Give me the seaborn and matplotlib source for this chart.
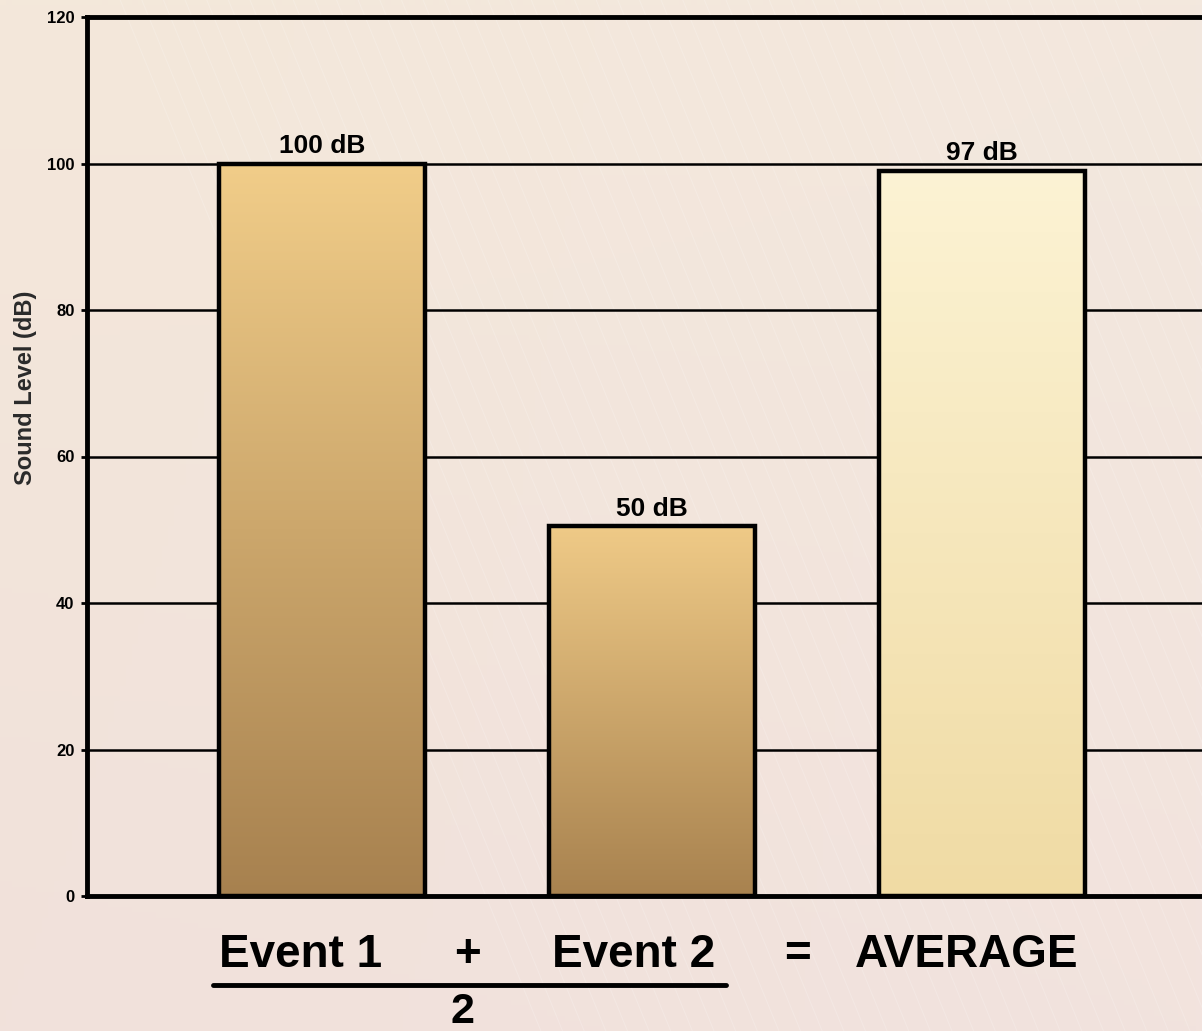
import numpy as np
import pandas as pd
import matplotlib
matplotlib.use("Agg")
import matplotlib.pyplot as plt
import seaborn as sns
from matplotlib.lines import Line2D
from matplotlib.colors import to_rgb

# ---- data ----
categories = ["Event 1", "Event 2", "AVERAGE"]
levels = [100, 50.5, 99]
bar_labels = ["100 dB", "50 dB", "97 dB"]
y_ticks = [0, 20, 40, 60, 80, 100, 120]
top_colors = ["#F1CD89", "#EFCA87", "#FCF3D4"]
bottom_colors = ["#A7814F", "#A8824F", "#F0DBA4"]

sns.set_theme(style="white")
plt.rcParams["font.family"] = ["Liberation Sans", "DejaVu Sans"]
plt.rcParams["text.color"] = "black"

W, H = 1202, 1031
fig = plt.figure(figsize=(W / 100, H / 100), dpi=100)

# background gradient with faint diagonal streaks
bg = fig.add_axes([0, 0, 1, 1], zorder=-10)
tl, tr = np.array(to_rgb("#F4E8DA")), np.array(to_rgb("#F3E8DE"))
bl, br = np.array(to_rgb("#F1E1DB")), np.array(to_rgb("#F2E3DE"))
n = 200
u = np.linspace(0, 1, n)[None, :, None]
v = np.linspace(0, 1, n)[:, None, None]
img = (1 - v) * ((1 - u) * tl + u * tr) + v * ((1 - u) * bl + u * br)
bg.imshow(img, extent=[0, 1, 0, 1], aspect="auto", origin="upper")
for x0 in np.arange(0.45, 1.3, 0.018):
    bg.plot([x0 - 0.35, x0], [1.0, 0.0], color="white", lw=0.8, alpha=0.18)
bg.set_xlim(0, 1)
bg.set_ylim(0, 1)
bg.axis("off")

# main axes
ax = fig.add_axes([87 / W, 135 / H, 1126 / W, 879 / H])
ax.patch.set_alpha(0)

df = pd.DataFrame({"category": categories, "level": levels})
sns.barplot(data=df, x="category", y="level", ax=ax, width=0.627,
            color="white", edgecolor="black", linewidth=3.2, zorder=3)

for patch, ctop, cbot in zip(ax.patches, top_colors, bottom_colors):
    x0, w, h = patch.get_x(), patch.get_width(), patch.get_height()
    t = np.linspace(0, 1, 256)[:, None, None]
    grad = (1 - t) * np.array(to_rgb(ctop)) + t * np.array(to_rgb(cbot))
    im = ax.imshow(grad, extent=[x0, x0 + w, 0, h], aspect="auto",
                   origin="upper", zorder=2.5)
    im.set_clip_path(patch)
    patch.set_facecolor("none")

ax.bar_label(ax.containers[0], labels=bar_labels, padding=4,
             fontsize=19, fontweight="bold", color="black")

ax.set_xlim(-0.712, 2.70)
ax.set_ylim(0, 120)
ax.set_yticks(y_ticks)
ax.set_yticklabels([str(t) for t in y_ticks], fontsize=12, fontweight="bold",
                   color="black")
ax.tick_params(axis="y", length=4, width=2, color="black", pad=5, left=True)
ax.tick_params(axis="x", length=0, labelbottom=False)
ax.set_xlabel("")
ax.set_ylabel("Sound Level (dB)", fontsize=17, fontweight="bold", color="#2a2a2a")
ax.yaxis.set_label_coords((37 - 87) / 1126, (896 - 388) / 879)

ax.yaxis.grid(True, color="black", lw=1.8)
ax.set_axisbelow(True)
for side in ["left", "top", "bottom"]:
    ax.spines[side].set_visible(True)
    ax.spines[side].set_linewidth(3.5)
    ax.spines[side].set_color("black")
ax.spines["right"].set_visible(False)

# formula text below
fs = 33
kw = dict(ha="center", va="center", fontsize=fs, fontweight="bold", color="black")
fig.text(301 / W, 1 - 955 / H, "Event 1", **kw)
fig.text(468 / W, 1 - 955 / H, "+", **kw)
fig.text(634 / W, 1 - 955 / H, "Event 2", **kw)
fig.text(797 / W, 1 - 955 / H, "=", **kw)
fig.text(967 / W, 1 - 955 / H, "AVERAGE", **kw)
fig.add_artist(Line2D([213 / W, 726 / W], [1 - 985 / H, 1 - 985 / H],
                      transform=fig.transFigure, color="black", lw=3.5))
fig.text(462 / W, 1 - 1012 / H, "2", ha="center", va="center", fontsize=31,
         fontweight="bold", color="black")

fig.savefig("out.png", dpi=100)
